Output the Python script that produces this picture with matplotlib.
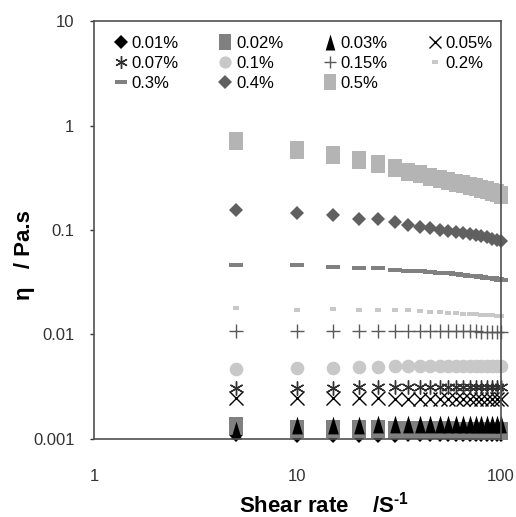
import matplotlib
matplotlib.use("Agg")
import matplotlib.pyplot as plt

plt.rcParams["font.family"] = ["Liberation Sans", "DejaVu Sans"]
plt.rcParams["mathtext.fontset"] = "custom"
plt.rcParams["mathtext.bf"] = "Liberation Sans:bold"
plt.rcParams["mathtext.rm"] = "Liberation Sans"

# shear rate (1/s)
shear = [5, 10, 15, 20, 25, 30, 35, 40, 45, 50,
         55, 60, 65, 70, 75, 80, 85, 90, 95, 100]

# viscosity (Pa.s) per concentration
eta_001 = [0.00108, 0.00107, 0.00107, 0.00107, 0.00107, 0.00107, 0.00108, 0.00108, 0.00108, 0.00108,
           0.00108, 0.00108, 0.00108, 0.00108, 0.00108, 0.00108, 0.00108, 0.00108, 0.00108, 0.00108]
eta_002 = [0.00133, 0.00125, 0.00125, 0.00124, 0.00124, 0.00123, 0.00122, 0.00122, 0.00121, 0.00121,
           0.00121, 0.00120, 0.00120, 0.00120, 0.00120, 0.00120, 0.00119, 0.00119, 0.00119, 0.00119]
eta_003 = [0.00122, 0.00136, 0.00137, 0.00137, 0.00138, 0.00138, 0.00138, 0.00138, 0.00138, 0.00138,
           0.00138, 0.00138, 0.00138, 0.00138, 0.00138, 0.00138, 0.00138, 0.00138, 0.00138, 0.00138]
eta_005 = [0.00247, 0.00245, 0.00245, 0.00244, 0.00244, 0.00243, 0.00243, 0.00242, 0.00242, 0.00242,
           0.00242, 0.00242, 0.00242, 0.00242, 0.00242, 0.00242, 0.00242, 0.00242, 0.00242, 0.00242]
eta_007 = [0.00310, 0.00310, 0.00310, 0.00311, 0.00311, 0.00312, 0.00312, 0.00312, 0.00312, 0.00312,
           0.00312, 0.00312, 0.00312, 0.00312, 0.00312, 0.00312, 0.00312, 0.00312, 0.00312, 0.00312]
eta_01 = [0.00470, 0.00480, 0.00480, 0.00490, 0.00490, 0.00500, 0.00500, 0.00500, 0.00500, 0.00500,
          0.00500, 0.00500, 0.00500, 0.00500, 0.00500, 0.00500, 0.00500, 0.00500, 0.00500, 0.00500]
eta_015 = [0.0107, 0.0107, 0.0107, 0.0107, 0.0107, 0.0107, 0.0107, 0.0107, 0.0107, 0.0107,
           0.0107, 0.0107, 0.0107, 0.0107, 0.0107, 0.0106, 0.0106, 0.0106, 0.0106, 0.0106]
eta_02 = [0.0178, 0.0170, 0.0176, 0.0170, 0.0170, 0.0170, 0.0170, 0.0168, 0.0165, 0.0163,
          0.0162, 0.0160, 0.0158, 0.0157, 0.0156, 0.0155, 0.0154, 0.0153, 0.0152, 0.0150]
eta_03 = [0.0462, 0.0460, 0.0446, 0.0430, 0.0430, 0.0415, 0.0410, 0.0405, 0.0400, 0.0390,
          0.0385, 0.0380, 0.0370, 0.0365, 0.0360, 0.0355, 0.0350, 0.0345, 0.0340, 0.0335]
eta_04 = [0.155, 0.145, 0.139, 0.129, 0.128, 0.120, 0.112, 0.107, 0.104, 0.101,
          0.098, 0.096, 0.094, 0.091, 0.089, 0.087, 0.085, 0.083, 0.081, 0.079]
eta_05 = [0.71, 0.59, 0.52, 0.468, 0.43, 0.395, 0.36, 0.344, 0.324, 0.31,
          0.297, 0.285, 0.275, 0.265, 0.256, 0.248, 0.240, 0.232, 0.225, 0.218]

labels = ["0.01%", "0.02%", "0.03%", "0.05%", "0.07%", "0.1%",
          "0.15%", "0.2%", "0.3%", "0.4%", "0.5%"]
series = [eta_001, eta_002, eta_003, eta_005, eta_007, eta_01,
          eta_015, eta_02, eta_03, eta_04, eta_05]

# tall shapes (Excel-style markers)
tall_rect = [(-0.37, -0.5), (0.37, -0.5), (0.37, 0.5), (-0.37, 0.5), (-0.37, -0.5)]
tall_tri = [(-0.3, -0.5), (0.3, -0.5), (0.0, 0.5), (-0.3, -0.5)]
dash_long = [(-0.5, -0.14), (0.5, -0.14), (0.5, 0.14), (-0.5, 0.14), (-0.5, -0.14)]
dash_short = [(-0.5, -0.3), (0.5, -0.3), (0.5, 0.3), (-0.5, 0.3), (-0.5, -0.3)]

styles = [
    dict(marker="D", ms=7.6, color="black"),
    dict(marker=tall_rect, ms=12.8, color="#808080"),
    dict(marker=tall_tri, ms=12.8, color="black"),
    dict(marker="x", ms=9.5, color="black", mew=1.0),
    dict(marker=(6, 2, 0), ms=10.0, color="#303030", mew=1.0),
    dict(marker="o", ms=9.8, color="#c8c8c8"),
    dict(marker="+", ms=9.5, color="#5a5a5a", mew=1.0),
    dict(marker=dash_short, ms=4.8, color="#c8c8c8"),
    dict(marker=dash_long, ms=10.0, color="#808080"),
    dict(marker="D", ms=7.6, color="#606060"),
    dict(marker=tall_rect, ms=12.8, color="#b4b4b4"),
]

fig = plt.figure(figsize=(5.16, 5.17), dpi=100)
ax = fig.add_axes([0.182, 0.151, 0.789, 0.808])

handles = []
for vals, lab, st in zip(series, labels, styles):
    h, = ax.plot(shear, vals, linestyle="none", label=lab, clip_on=False,
                 marker=st["marker"], markersize=st["ms"], color=st["color"],
                 markeredgewidth=st.get("mew", 0.0))
    handles.append(h)

ax.set_xscale("log")
ax.set_yscale("log")
ax.set_xlim(1, 100)
ax.set_ylim(0.001, 10)
ax.set_xticks([1, 10, 100])
ax.set_xticklabels(["1", "10", "100"])
ax.set_yticks([0.001, 0.01, 0.1, 1, 10])
ax.set_yticklabels(["0.001", "0.01", "0.1", "1", "10"])
ax.minorticks_off()
ax.tick_params(axis="x", length=0, pad=22, labelsize=12, colors="#333333")
ax.tick_params(axis="y", length=3, width=1, pad=11, labelsize=12,
               colors="#333333", direction="out")
for sp in ax.spines.values():
    sp.set_color("#505050")
    sp.set_linewidth(1.2)

ax.set_xlabel("Shear rate    /S$^{\\mathbf{\u20101}}$", fontsize=16,
              fontweight="bold")
ax.xaxis.set_label_coords(0.565, -0.125)
ax.set_ylabel("η   / Pa.s", fontsize=16, fontweight="bold")
ax.yaxis.set_label_coords(-0.145, 0.44)

# legend filled row by row (matplotlib fills columns first)
order = [0, 4, 8, 1, 5, 9, 2, 6, 10, 3, 7]
ax.legend([handles[i] for i in order], [labels[i] for i in order],
          loc="upper left", bbox_to_anchor=(0.051, 0.965), ncol=4,
          frameon=False, fontsize=12, handlelength=0.72, handletextpad=0.28,
          columnspacing=2.45, labelspacing=0.3, borderpad=0, borderaxespad=0,
          markerscale=0.9)

fig.savefig("out.png", dpi=100)
